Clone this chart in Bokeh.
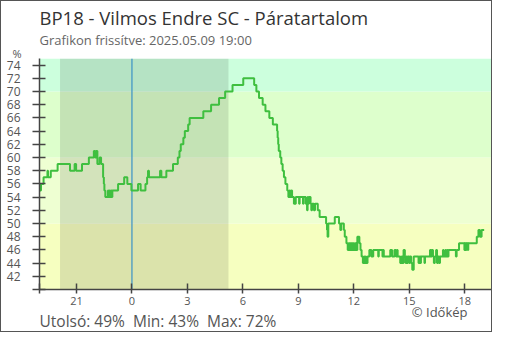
from bokeh.plotting import figure
from bokeh.models import BoxAnnotation, Span, Title, FixedTicker, Range1d
from bokeh.embed import file_html
from bokeh.resources import INLINE

# ---- data (hours relative to 2025-05-09 00:00, relative humidity %) ----
hours = [
    -5.00, -4.92, -4.78, -4.57, -4.54, -4.39, -4.02, -3.35, -3.10, -3.02,
    -2.70, -2.33, -2.06, -2.00, -1.95, -1.87, -1.75, -1.67, -1.56, -1.52,
    -1.49, -1.44, -1.30, -1.27, -1.22, -1.18, -1.13, -1.10, -1.06, -0.75,
    -0.42, -0.25, -0.03,
    0.33, 0.47, 0.73, 0.82, 0.87, 0.92, 1.52, 1.59, 1.86, 2.22,
    2.48, 2.57, 2.64, 2.78, 2.86, 3.04, 3.12, 3.86, 4.28, 4.71,
    5.04, 5.44, 6.02, 6.61, 6.73, 6.87, 7.07, 7.22, 7.43, 7.62,
    7.85, 7.88, 7.91, 7.94, 8.02, 8.08, 8.15, 8.22, 8.30, 8.40,
    8.46, 8.52, 8.56, 8.62, 8.66, 8.76, 8.86, 9.04, 9.07, 9.25,
    9.28, 9.40, 9.47, 9.50, 9.53, 9.57, 9.66, 9.70, 9.74, 9.84,
    9.90, 10.05, 10.15, 10.50, 10.55, 10.58, 10.62, 10.97, 11.20, 11.27,
    11.32, 11.46, 11.51, 11.60, 11.67, 11.72, 11.76, 11.80, 11.84, 11.88,
    11.93, 11.97, 12.02, 12.07, 12.12, 12.19, 12.30, 12.36, 12.42, 12.49,
    12.55, 12.58, 12.63, 12.66, 12.74, 12.84, 12.95, 13.05, 13.32, 13.35,
    13.55, 13.58, 13.62, 13.97, 14.07, 14.20, 14.28, 14.33, 14.37, 14.51,
    14.58, 14.63, 14.69, 14.76, 14.80, 14.84, 14.88, 14.92, 15.00, 15.04,
    15.10, 15.16, 15.24, 15.50, 15.55, 15.60, 15.63, 15.82, 15.85, 16.12,
    16.16, 16.22, 16.28, 16.33, 16.38, 16.45, 16.50, 16.56, 16.62, 16.66,
    16.82, 16.86, 16.95, 17.00, 17.05, 17.08, 17.12, 17.52, 17.56, 17.69,
    17.98, 18.01, 18.06, 18.09, 18.16, 18.19, 18.65, 18.74, 18.82, 18.91,
    19.05,
]
rh = [
    55, 56, 57, 58, 57, 58, 59, 58, 59, 58,
    59, 60, 61, 60, 61, 59, 60, 59, 57, 56,
    55, 54, 55, 54, 55, 54, 55, 54, 55, 56,
    57, 56, 55,
    56, 55, 56, 57, 58, 57, 58, 57, 58, 59,
    60, 61, 62, 63, 64, 65, 66, 67, 68, 69,
    70, 71, 72, 71, 70, 69, 68, 67, 66, 65,
    64, 63, 62, 61, 60, 59, 58, 57, 56, 55,
    54, 55, 54, 55, 54, 53, 54, 53, 54, 53,
    54, 53, 52, 54, 53, 54, 53, 52, 53, 52,
    53, 52, 51, 50, 49, 48, 50, 51, 50, 49,
    50, 49, 48, 47, 46, 47, 46, 47, 46, 47,
    46, 47, 46, 47, 46, 48, 47, 46, 45, 44,
    45, 44, 45, 44, 45, 46, 45, 46, 45, 46,
    45, 46, 45, 46, 45, 46, 45, 46, 45, 44,
    45, 44, 46, 45, 44, 45, 44, 45, 44, 45,
    44, 43, 45, 44, 45, 44, 45, 44, 45, 46,
    45, 46, 45, 44, 45, 46, 44, 45, 44, 45,
    46, 45, 46, 45, 46, 45, 46, 45, 46, 47,
    46, 47, 46, 47, 46, 47, 48, 49, 48, 49,
    49,
]

x_ticks = [-5, -3, 0, 3, 6, 9, 12, 15, 18]
x_tick_labels = ["", "21", "0", "3", "6", "9", "12", "15", "18"]
y_ticks = list(range(40, 75, 2))
y_tick_labels = [""] + [str(v) for v in range(42, 75, 2)]

band_edges = [40, 50, 60, 70, 75]
band_colors = ["#f6ffc0", "#eeffd2", "#ddffcc", "#ccffdd"]
night_span = [-3.89, 5.22]
midnight = 0
x_limits = [-5.0, 19.5]

title_text = "BP18 - Vilmos Endre SC - Páratartalom"
subtitle_text = "Grafikon frissítve: 2025.05.09 19:00"
unit_text = "%"
credit_text = "© Időkép"

FONT = "Open Sans"

p = figure(width=492, height=332, output_backend="svg", toolbar_location=None,
           x_range=Range1d(*x_limits), y_range=Range1d(band_edges[0], band_edges[-1]),
           min_border_left=38, min_border_right=1, min_border_top=57, min_border_bottom=44)
p.styles = {"border": "1px solid #555555"}
p.outline_line_color = None
p.background_fill_color = "white"
p.border_fill_color = "white"
p.xgrid.visible = False
p.ygrid.visible = False

# background bands
for lo, hi, col in zip(band_edges[:-1], band_edges[1:], band_colors):
    p.add_layout(BoxAnnotation(bottom=lo, top=hi, fill_color=col, fill_alpha=1.0,
                               line_color=None, level="underlay"))
# night shading
p.add_layout(BoxAnnotation(left=night_span[0], right=night_span[1], fill_color="black",
                           fill_alpha=0.11, line_color=None, level="underlay"))
# midnight line
p.add_layout(Span(location=midnight, dimension="height", line_color="#3a93c6",
                  line_width=1.2, level="underlay"))

p.step(hours, rh, mode="after", line_color="#3fbf3f", line_width=2)

# axes
for ax in (p.xaxis[0], p.yaxis[0]):
    ax.axis_line_color = "#444444"
    ax.axis_line_width = 1.5
    ax.major_tick_line_color = "#444444"
    ax.major_tick_line_width = 1.5
    ax.minor_tick_line_color = None
    ax.major_label_text_color = "#555555"
    ax.major_label_text_font = FONT

p.xaxis.ticker = FixedTicker(ticks=x_ticks)
p.xaxis.major_label_overrides = dict(zip(x_ticks, x_tick_labels))
p.xaxis.major_tick_in = 6
p.xaxis.major_tick_out = 4
p.xaxis.major_label_standoff = 3
p.xaxis.major_label_text_font_size = "11px"

p.yaxis.ticker = FixedTicker(ticks=y_ticks)
p.yaxis.major_label_overrides = dict(zip(y_ticks, y_tick_labels))
p.yaxis.major_tick_in = 6
p.yaxis.major_tick_out = 7
p.yaxis.major_label_standoff = 12
p.yaxis.major_label_text_font_size = "12px"


def make_title(text, size, color, align="left", offset=0, standoff=0, valign="bottom"):
    return Title(text=text, align=align, offset=offset, standoff=standoff,
                 vertical_align=valign,
                 text_font=FONT, text_font_size=size, text_color=color,
                 text_font_style="normal")


# texts above the frame (first added = nearest to the frame)
p.add_layout(make_title(" ", "11px", "#555555", standoff=-15), "above")
p.add_layout(make_title(unit_text, "11px", "#555555", offset=-27, standoff=-8), "above")
p.add_layout(make_title(subtitle_text, "13px", "#666666", standoff=-2), "above")
p.add_layout(make_title(title_text, "18.5px", "#333333", standoff=0), "above")

# texts below the frame
summary = (f"Utolsó: {rh[-1]}%\u00a0 Min: {min(rh)}%\u00a0 Max: {max(rh)}%")
p.add_layout(make_title(credit_text, "13px", "#555555", align="right", offset=25,
                        standoff=-10, valign="top"), "below")
p.add_layout(make_title(summary, "15.5px", "#555555", standoff=-16, valign="top"), "below")

open("out.html", "w").write(file_html(p, INLINE))
